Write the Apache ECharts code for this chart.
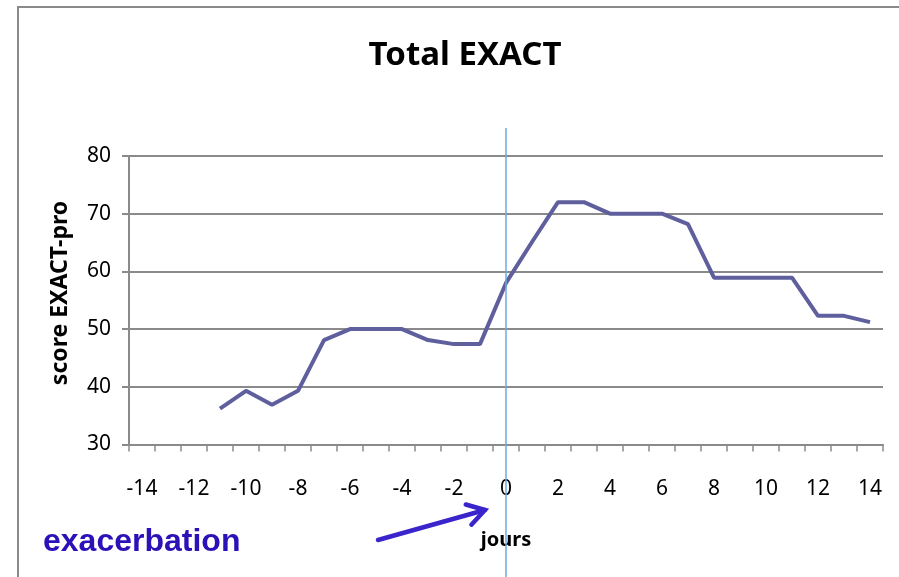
<!DOCTYPE html>
<html>
<head>
<meta charset="utf-8">
<script src="https://cdn.jsdelivr.net/npm/echarts@6/dist/echarts.min.js"></script>
<style>
    html, body { margin: 0; padding: 0; background: #fff; }
    #main { width: 899px; height: 577px; }
</style>
</head>
<body>
<div id="main"></div>
<script>
// jours autour de l'exacerbation
var days = ["-14", "-13", "-12", "-11", "-10", "-9", "-8", "-7", "-6", "-5", "-4", "-3", "-2", "-1",
    "0", "1", "2", "3", "4", "5", "6", "7", "8", "9", "10", "11", "12", "13", "14"];
// score EXACT-pro (pas de mesure avant J-11)
var scores = ["-", "-", "-", 36.2, 39.3, 36.9, 39.3, 48.1, 50, 50, 50, 48.1, 47.4, 47.4,
    58, 65.1, 72, 72, 70, 70, 70, 68.2, 58.9, 58.9, 58.9, 58.9, 52.3, 52.3, 51.2];
var yTicks = { min: 30, max: 80, step: 10 };

(function () {
    var myChart = echarts.init(document.getElementById('main'));
    var font = '"Noto Sans", "Open Sans", sans-serif';

    var option = {
        backgroundColor: '#fff',
        animation: false,
        title: {
            text: 'Total EXACT',
            left: 460,
            top: 34,
            textAlign: 'center',
            textStyle: {
                fontFamily: font,
                fontSize: 33,
                fontWeight: 'bold',
                color: '#000'
            }
        },
        grid: {
            left: 129,
            right: 16,
            top: 156,
            bottom: 132.5
        },
        xAxis: {
            type: 'category',
            data: days,
            boundaryGap: true,
            axisLine: { lineStyle: { color: '#8a8a8a', width: 2 } },
            axisTick: {
                show: true,
                interval: 0,
                length: 7,
                lineStyle: { color: '#8a8a8a', width: 1.5 }
            },
            axisLabel: {
                interval: 1,
                margin: 34,
                color: '#000',
                fontFamily: font,
                fontSize: 21
            },
            splitLine: { show: false }
        },
        yAxis: {
            type: 'value',
            min: yTicks.min,
            max: yTicks.max,
            interval: yTicks.step,
            axisLine: { show: true, lineStyle: { color: '#8a8a8a', width: 2 } },
            axisTick: { show: true, length: 7, lineStyle: { color: '#8a8a8a', width: 2 } },
            axisLabel: {
                margin: 18,
                color: '#000',
                fontFamily: font,
                fontSize: 21
            },
            splitLine: { show: true, lineStyle: { color: '#8a8a8a', width: 2 } }
        },
        series: [
            {
                name: 'Total EXACT',
                type: 'line',
                data: scores,
                symbol: 'none',
                connectNulls: false,
                lineStyle: { color: '#5f5f9d', width: 4 },
                z: 3
            }
        ]
    };
    myChart.setOption(option);

    // ligne verticale au jour 0 + annotations
    var x0 = myChart.convertToPixel({ xAxisIndex: 0 }, '0');
    var tail = [378, 540], tip = [485, 510];
    var ang = Math.atan2(tip[1] - tail[1], tip[0] - tail[0]);
    var headLen = 20, spread = 0.55;
    var h1 = [tip[0] - headLen * Math.cos(ang - spread), tip[1] - headLen * Math.sin(ang - spread)];
    var h2 = [tip[0] - headLen * Math.cos(ang + spread), tip[1] - headLen * Math.sin(ang + spread)];

    myChart.setOption({
        graphic: [
            {
                type: 'rect',
                shape: { x: 18, y: 7, width: 900, height: 600 },
                style: { fill: 'none', stroke: '#8a8a8a', lineWidth: 2 },
                silent: true,
                z: 1
            },
            {
                type: 'line',
                shape: { x1: x0, y1: 128, x2: x0, y2: 577 },
                style: { stroke: '#6fa8dc', lineWidth: 1.5 },
                z: 10
            },
            {
                type: 'text',
                x: 60,
                y: 293,
                rotation: Math.PI / 2,
                style: {
                    text: 'score EXACT-pro',
                    fontFamily: font,
                    fontSize: 23,
                    fontWeight: 'bold',
                    fill: '#000',
                    align: 'center',
                    verticalAlign: 'middle'
                }
            },
            {
                type: 'text',
                x: x0,
                y: 540,
                style: {
                    text: 'jours',
                    fontFamily: font,
                    fontSize: 20,
                    fontWeight: 'bold',
                    fill: '#000',
                    align: 'center',
                    verticalAlign: 'middle'
                },
                z: 5
            },
            {
                type: 'text',
                x: 43,
                y: 542,
                style: {
                    text: 'exacerbation',
                    fontFamily: '"Liberation Sans", Arial, sans-serif',
                    fontSize: 32,
                    fontWeight: 'bold',
                    fill: '#2b11b8',
                    align: 'left',
                    verticalAlign: 'middle'
                }
            },
            {
                type: 'polyline',
                shape: { points: [tail, tip] },
                style: { stroke: '#3a24cc', lineWidth: 4.5, lineCap: 'round' }
            },
            {
                type: 'polyline',
                shape: { points: [h1, tip, h2] },
                style: { stroke: '#3a24cc', lineWidth: 4.5, fill: 'none', lineCap: 'round', lineJoin: 'miter' }
            }
        ]
    });

    window.addEventListener("resize", function () {
        myChart.resize();
    });
})();
</script>
</body>
</html>
